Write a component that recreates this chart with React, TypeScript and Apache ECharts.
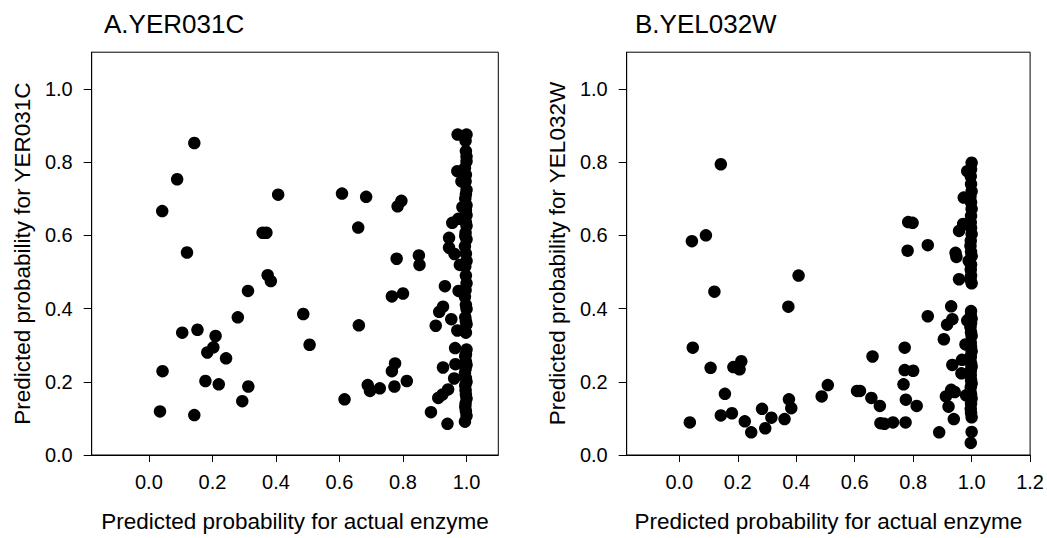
import React, { useEffect, useRef } from "react";
import * as echarts from "echarts";

// Panel A: YER031C — [predicted probability for actual enzyme, predicted probability for YER031C]
const yer031cScatter: number[][] = [
  [0.035, 0.119], [0.042, 0.666], [0.043, 0.229], [0.089, 0.753], [0.105, 0.334],
  [0.120, 0.553], [0.143, 0.852], [0.143, 0.109], [0.153, 0.342], [0.178, 0.202],
  [0.184, 0.280], [0.203, 0.294], [0.210, 0.325], [0.220, 0.193], [0.243, 0.264],
  [0.280, 0.376], [0.294, 0.147], [0.313, 0.187], [0.312, 0.448], [0.358, 0.607],
  [0.370, 0.607], [0.374, 0.491], [0.384, 0.475], [0.407, 0.711], [0.486, 0.385],
  [0.506, 0.301], [0.608, 0.714], [0.616, 0.152], [0.659, 0.621], [0.661, 0.354],
  [0.684, 0.705], [0.689, 0.191], [0.696, 0.175], [0.727, 0.182], [0.765, 0.433],
  [0.773, 0.187], [0.765, 0.229], [0.775, 0.250], [0.780, 0.536], [0.783, 0.679],
  [0.795, 0.694], [0.800, 0.441], [0.812, 0.202], [0.850, 0.545], [0.852, 0.519],
  [0.888, 0.117], [0.903, 0.353], [0.914, 0.391], [0.926, 0.405], [0.932, 0.461],
  [0.911, 0.156], [0.924, 0.165], [0.942, 0.179], [0.926, 0.239], [0.940, 0.085],
  [0.945, 0.593], [0.945, 0.566], [0.955, 0.634], [0.962, 0.549], [0.952, 0.371],
  [0.961, 0.209], [0.965, 0.248], [0.964, 0.292], [0.971, 0.340], [0.974, 0.645],
  [0.971, 0.775], [0.972, 0.875], [0.975, 0.448], [0.979, 0.519], [0.984, 0.747],
  [0.987, 0.677],
];
const yer031cColumn: number[][] = [
  [1.0, 0.875], [0.997, 0.858], [0.998, 0.830], [1.0, 0.815], [1.0, 0.802], [0.995, 0.784],
  [0.998, 0.765], [0.997, 0.747], [1.0, 0.724], [0.998, 0.712], [0.996, 0.700], [1.0, 0.682],
  [0.998, 0.668], [1.0, 0.655], [0.995, 0.645], [0.998, 0.635], [1.0, 0.626], [0.997, 0.607],
  [0.996, 0.598], [1.0, 0.589], [0.995, 0.570], [0.998, 0.550], [1.0, 0.530], [0.996, 0.515],
  [0.998, 0.490], [1.0, 0.469], [0.997, 0.450], [0.995, 0.432], [0.998, 0.410], [1.0, 0.399],
  [0.996, 0.376], [0.998, 0.365], [1.0, 0.357], [0.998, 0.334], [1.0, 0.288], [0.998, 0.275],
  [0.996, 0.269], [0.998, 0.255], [1.0, 0.246], [0.997, 0.235], [0.995, 0.223], [0.998, 0.210],
  [1.0, 0.200], [0.996, 0.190], [0.997, 0.177], [0.998, 0.165], [1.0, 0.154], [0.997, 0.140],
  [0.996, 0.131], [0.998, 0.120], [1.0, 0.107], [0.995, 0.091],
];

// Panel B: YEL032W — [predicted probability for actual enzyme, predicted probability for YEL032W]
const yel032wScatter: number[][] = [
  [0.036, 0.089], [0.043, 0.584], [0.046, 0.293], [0.091, 0.600], [0.107, 0.238],
  [0.120, 0.446], [0.142, 0.794], [0.142, 0.108], [0.156, 0.167], [0.180, 0.114],
  [0.185, 0.240], [0.206, 0.234], [0.212, 0.256], [0.224, 0.092], [0.246, 0.062],
  [0.283, 0.126], [0.294, 0.073], [0.315, 0.102], [0.360, 0.098], [0.373, 0.405],
  [0.375, 0.152], [0.383, 0.128], [0.408, 0.490], [0.487, 0.160], [0.508, 0.191],
  [0.608, 0.175], [0.618, 0.175], [0.657, 0.156], [0.661, 0.269], [0.686, 0.134],
  [0.688, 0.087], [0.702, 0.085], [0.731, 0.089], [0.767, 0.193], [0.771, 0.293],
  [0.774, 0.089], [0.771, 0.232], [0.775, 0.151], [0.781, 0.558], [0.783, 0.636],
  [0.798, 0.634], [0.800, 0.230], [0.812, 0.134], [0.850, 0.573], [0.850, 0.379],
  [0.889, 0.062], [0.905, 0.316], [0.916, 0.356], [0.930, 0.406], [0.934, 0.371],
  [0.912, 0.160], [0.921, 0.132], [0.930, 0.178], [0.942, 0.172], [0.934, 0.246],
  [0.939, 0.098], [0.945, 0.552], [0.948, 0.541], [0.957, 0.612], [0.957, 0.480],
  [0.971, 0.631], [0.973, 0.703], [0.967, 0.260], [0.965, 0.223], [0.981, 0.163],
  [0.979, 0.302], [0.985, 0.367], [0.985, 0.775], [0.990, 0.530],
];
const yel032wColumn: number[][] = [
  [1.0, 0.798], [0.998, 0.780], [0.997, 0.761], [0.998, 0.740], [1.0, 0.720], [0.996, 0.705],
  [0.998, 0.690], [1.0, 0.672], [0.998, 0.653], [0.997, 0.635], [0.998, 0.620], [1.0, 0.603],
  [0.997, 0.585], [0.996, 0.571], [0.998, 0.555], [1.0, 0.543], [0.998, 0.520], [0.997, 0.506],
  [0.998, 0.490], [0.996, 0.480], [1.0, 0.469], [0.998, 0.393], [0.997, 0.380], [1.0, 0.372],
  [0.998, 0.360], [0.996, 0.349], [0.998, 0.335], [1.0, 0.325], [0.997, 0.307], [0.998, 0.295],
  [1.0, 0.283], [0.997, 0.270], [0.996, 0.264], [0.998, 0.250], [1.0, 0.241], [0.997, 0.230],
  [0.997, 0.218], [0.998, 0.205], [1.0, 0.195], [0.997, 0.185], [0.996, 0.172], [0.998, 0.165],
  [1.0, 0.154], [0.998, 0.140], [0.997, 0.126], [0.998, 0.115], [1.0, 0.103],
  [1.0, 0.063], [0.997, 0.033],
];

const panelTitles = ["A.YER031C", "B.YEL032W"];
const yAxisNames = ["Predicted probability for YER031C", "Predicted probability for YEL032W"];
const xAxisName = "Predicted probability for actual enzyme";
const xTicksA = [0, 0.2, 0.4, 0.6, 0.8, 1.0];
const xTicksB = [0, 0.2, 0.4, 0.6, 0.8, 1.0, 1.2];
const yTicks = [0, 0.2, 0.4, 0.6, 0.8, 1.0];

const FONT = '"Liberation Sans", Arial, Helvetica, sans-serif';

export default function App() {
  const ref = useRef<HTMLDivElement>(null);

  useEffect(() => {
    if (!ref.current) return;
    const chart = echarts.init(ref.current, null, { renderer: "svg" });

    const fmt = (v: number) => v.toFixed(1);

    const xAxisBase = (gridIndex: number, max: number, ticks: number[]) => ({
      type: "value" as const,
      gridIndex,
      min: -0.18,
      max,
      name: xAxisName,
      nameLocation: "middle" as const,
      nameGap: 55,
      nameTextStyle: { fontFamily: FONT, fontSize: 22.5, color: "#000" },
      axisLine: { show: true, onZero: false, lineStyle: { color: "#000", width: 1 } },
      axisTick: { show: true, length: 7, inside: false, customValues: ticks, lineStyle: { color: "#000" } },
      axisLabel: {
        show: true,
        customValues: ticks,
        formatter: fmt,
        margin: 17,
        fontFamily: FONT,
        fontSize: 20,
        color: "#000",
      },
      splitLine: { show: false },
    });

    const yAxisBase = (gridIndex: number, name: string) => ({
      type: "value" as const,
      gridIndex,
      min: 0,
      max: 1.1,
      name,
      nameLocation: "middle" as const,
      nameGap: 58,
      nameTextStyle: { fontFamily: FONT, fontSize: 22.5, color: "#000" },
      axisLine: { show: true, onZero: false, lineStyle: { color: "#000", width: 1 } },
      axisTick: { show: true, length: 8, inside: false, customValues: yTicks, lineStyle: { color: "#000" } },
      axisLabel: {
        show: true,
        customValues: yTicks,
        formatter: fmt,
        margin: 19,
        fontFamily: FONT,
        fontSize: 20,
        color: "#000",
      },
      splitLine: { show: false },
    });

    const scatterStyle = {
      type: "scatter" as const,
      symbol: "circle",
      symbolSize: 12.5,
      itemStyle: { color: "#000", opacity: 1 },
      silent: true,
    };

    chart.setOption({
      animation: false,
      backgroundColor: "#fff",
      textStyle: { fontFamily: FONT },
      title: [
        {
          text: panelTitles[0],
          left: 99,
          top: 6,
          textStyle: { fontFamily: FONT, fontSize: 26, fontWeight: "normal", color: "#000" },
        },
        {
          text: panelTitles[1],
          left: 630,
          top: 6,
          textStyle: { fontFamily: FONT, fontSize: 26, fontWeight: "normal", color: "#000" },
        },
      ],
      grid: [
        { left: 91.7, top: 52.2, width: 406.6, height: 406.1, show: true, borderColor: "#000", borderWidth: 1, backgroundColor: "transparent" },
        { left: 626.7, top: 52.2, width: 406.6, height: 406.1, show: true, borderColor: "#000", borderWidth: 1, backgroundColor: "transparent" },
      ],
      xAxis: [xAxisBase(0, 1.1, xTicksA), xAxisBase(1, 1.2, xTicksB)],
      yAxis: [yAxisBase(0, yAxisNames[0]), yAxisBase(1, yAxisNames[1])],
      series: [
        { ...scatterStyle, name: "YER031C", xAxisIndex: 0, yAxisIndex: 0, data: [...yer031cScatter, ...yer031cColumn] },
        { ...scatterStyle, name: "YEL032W", xAxisIndex: 1, yAxisIndex: 1, data: [...yel032wScatter, ...yel032wColumn] },
      ],
    });

    return () => chart.dispose();
  }, []);

  return (
    <div
      ref={ref}
      style={{ position: "absolute", left: 0, top: 0, width: 1047, height: 538, background: "#fff" }}
    />
  );
}
